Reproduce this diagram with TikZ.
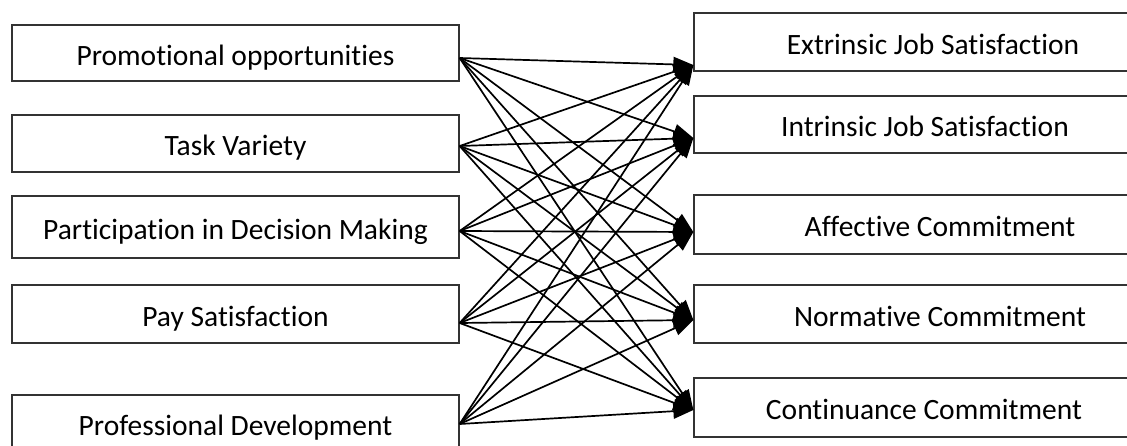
\documentclass[tikz,border=0pt]{standalone}
\usepackage{fontspec}
\setmainfont{Carlito}[Ligatures=NoCommon]
\usetikzlibrary{arrows.meta,positioning}

\tikzset{
  factor/.style={draw=black!80, line width=1.3pt, minimum width=447pt, inner sep=0pt,
    text height=24pt, text depth=0pt, font=\fontsize{29.5}{34}\selectfont},
  outcome/.style={draw=black!80, line width=1.3pt, inner sep=0pt,
    text height=24pt, text depth=0pt, font=\fontsize{29.5}{34}\selectfont},
  link/.style={-{Triangle[length=20pt,width=15pt]}, line width=1.7pt}
}

\begin{document}
\begin{tikzpicture}[x=1pt,y=-1pt]
  \useasboundingbox (0,0) rectangle (1127,445);
  \clip (0,0) rectangle (1127,445);

  % left column
  \node[factor, minimum height=56pt] (promo) at (235.5,53) {Promotional opportunities};
  \node[factor, minimum height=57pt] (task) at (235.5,143.5) {Task Variety};
  \node[factor, minimum height=62pt] (decision) at (235.5,227) {Participation in Decision Making};
  \node[factor, minimum height=58pt] (pay) at (235.5,314) {Pay Satisfaction};
  \node[factor, minimum height=56pt] (develop) at (235.5,423) {Professional Development};

  % right column (left edges at 694, cut off on the right)
  \node[outcome, minimum width=478pt, minimum height=58pt] (extrinsic) at (933,42) {Extrinsic Job Satisfaction};
  \node[outcome, minimum width=462pt, minimum height=57pt] (intrinsic) at (925,124.5) {Intrinsic Job Satisfaction};
  \node[outcome, minimum width=492pt, minimum height=59pt] (affective) at (940,224.5) {Affective Commitment};
  \node[outcome, minimum width=492pt, minimum height=58pt] (normative) at (940,314) {Normative Commitment};
  \node[outcome, minimum width=460pt, minimum height=59pt] (continuance) at (924,407.5) {Continuance Commitment};

  % ports
  \coordinate (promo-o) at ([yshift=-5pt]promo.east);
  \coordinate (task-o) at ([yshift=-2.5pt]task.east);
  \coordinate (decision-o) at ([yshift=-4pt]decision.east);
  \coordinate (pay-o) at ([yshift=-9pt]pay.east);
  \coordinate (develop-o) at ([yshift=-1pt]develop.east);
  \coordinate (extrinsic-i) at ([yshift=-23pt]extrinsic.west);
  \coordinate (intrinsic-i) at ([yshift=-13.5pt]intrinsic.west);
  \coordinate (affective-i) at ([yshift=-7.5pt]affective.west);
  \coordinate (normative-i) at ([yshift=-6pt]normative.west);
  \coordinate (continuance-i) at ([yshift=-2.5pt]continuance.west);

  \draw[link] (promo-o) -- (extrinsic-i);
  \draw[link] (promo-o) -- (intrinsic-i);
  \draw[link] (promo-o) -- (affective-i);
  \draw[link] (promo-o) -- (normative-i);
  \draw[link] (promo-o) -- (continuance-i);

  \draw[link] (task-o) -- (extrinsic-i);
  \draw[link] (task-o) -- (intrinsic-i);
  \draw[link] (task-o) -- (affective-i);
  \draw[link] (task-o) -- (normative-i);
  \draw[link] (task-o) -- (continuance-i);

  \draw[link] (decision-o) -- (extrinsic-i);
  \draw[link] (decision-o) -- (intrinsic-i);
  \draw[link] (decision-o) -- (affective-i);
  \draw[link] (decision-o) -- (normative-i);
  \draw[link] (decision-o) -- (continuance-i);

  \draw[link] (pay-o) -- (extrinsic-i);
  \draw[link] (pay-o) -- (intrinsic-i);
  \draw[link] (pay-o) -- (affective-i);
  \draw[link] (pay-o) -- (normative-i);
  \draw[link] (pay-o) -- (continuance-i);

  \draw[link] (develop-o) -- (extrinsic-i);
  \draw[link] (develop-o) -- (intrinsic-i);
  \draw[link] (develop-o) -- (affective-i);
  \draw[link] (develop-o) -- (normative-i);
  \draw[link] (develop-o) -- (continuance-i);
\end{tikzpicture}
\end{document}
